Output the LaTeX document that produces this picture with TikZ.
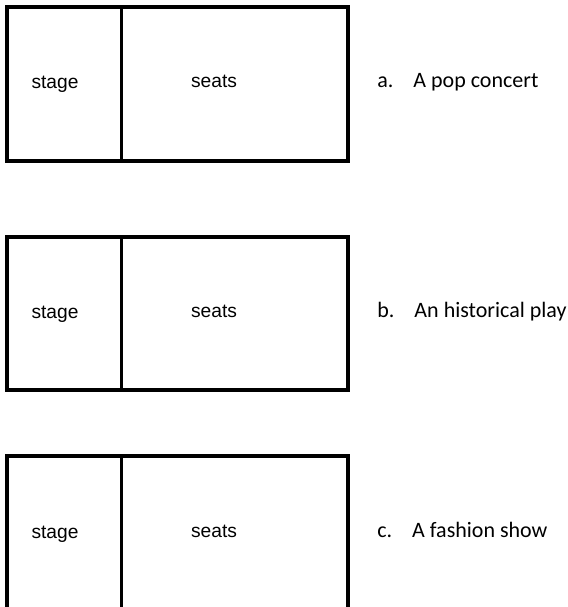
\documentclass[tikz,border=0pt]{standalone}
\usepackage{fontspec}
\setmainfont{Liberation Sans}
\newfontfamily\calibrifont{Carlito}

\begin{document}
\begin{tikzpicture}[x=0.5pt,y=-0.5pt,
    hall/.style={line width=2pt},
    divider/.style={line width=1.5pt},
    area/.style={font=\fontsize{9.6}{11}\selectfont, anchor=base, inner sep=0pt},
    venue/.style={font=\calibrifont\fontsize{11}{13}\selectfont, anchor=base west, inner sep=0pt}]
    \useasboundingbox (0,0) rectangle (568,607);
    % a. pop concert
    \draw[hall] (7,7) rectangle (348,161);
    \draw[divider] (121,7) -- (121,161);
    \node[area] (stageA) at (55,88) {stage};
    \node[area] (seatsA) at (214,87) {seats};
    \node[venue] (venueA) at (377,87) {a.\hspace{10pt}A pop concert};
    % b. historical play
    \draw[hall] (7,237) rectangle (348,390);
    \draw[divider] (121,237) -- (121,390);
    \node[area] (stageB) at (55,318) {stage};
    \node[area] (seatsB) at (214,317) {seats};
    \node[venue] (venueB) at (377,317) {b.\hspace{10pt}An historical play};
    % c. fashion show (box runs off the bottom)
    \draw[hall] (7,612) -- (7,456) -- (348,456) -- (348,612);
    \draw[divider] (121,456) -- (121,612);
    \node[area] (stageC) at (55,538) {stage};
    \node[area] (seatsC) at (214,537) {seats};
    \node[venue] (venueC) at (377,537) {c.\hspace{10pt}A fashion show};
\end{tikzpicture}
\end{document}
